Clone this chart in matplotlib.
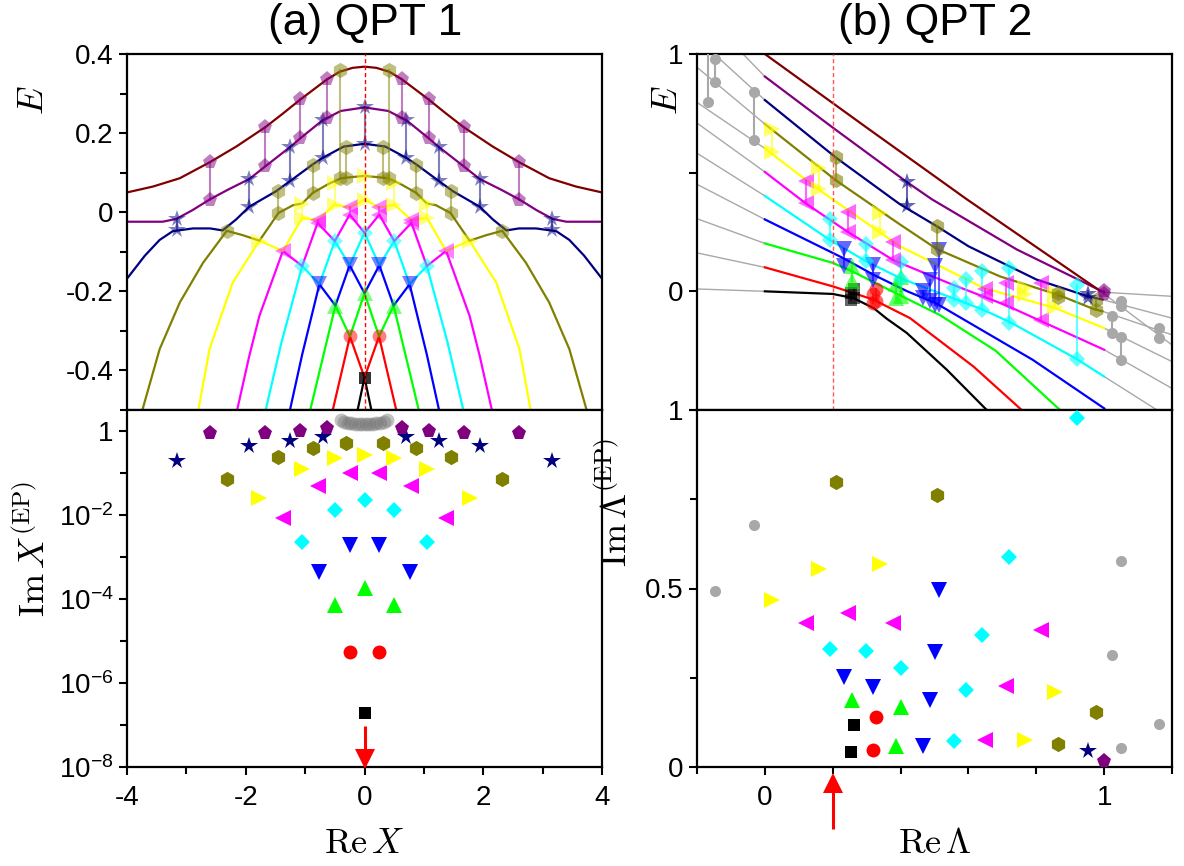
import matplotlib
matplotlib.use('Agg')
import matplotlib.pyplot as plt
import matplotlib.transforms as mtransforms
from matplotlib.ticker import FixedLocator, FixedFormatter, NullFormatter

plt.rcParams['mathtext.fontset'] = 'cm'
plt.rcParams['font.family'] = ['Liberation Sans', 'DejaVu Sans']

# ---------------- colours / markers per level ----------------
COLORS = {'black': '#000000', 'red': '#FF0000', 'green': '#00FF00', 'blue': '#0000FF',
          'cyan': '#00FFFF', 'magenta': '#FF00FF', 'yellow': '#FFFF00', 'olive': '#808000',
          'navy': '#000080', 'purple': '#800080', 'maroon': '#800000', 'gray': '#A8A8A8'}
MARKERS = {'black': ('s', 9), 'red': ('o', 10), 'green': ('^', 11), 'blue': ('v', 11),
           'cyan': ('D', 8.5), 'magenta': ('<', 11), 'yellow': ('>', 11), 'olive': ('h', 11),
           'navy': ('*', 13), 'purple': ('p', 11), 'gray': ('o', 8)}

# ================= panel (a): E vs Re X =================
a_black_X = [-0.13, 0, 0.13]
a_black_E = [-0.51, -0.418, -0.51]
a_red_X = [-0.55, -0.245, 0, 0.245, 0.55]
a_red_E = [-0.51, -0.314, -0.418, -0.314, -0.51]
a_green_X = [-0.93, -0.49, -0.245, 0, 0.245, 0.49, 0.93]
a_green_E = [-0.51, -0.236, -0.314, -0.205, -0.314, -0.236, -0.51]
a_blue_X = [-1.27, -1.05, -0.76, -0.49, -0.25, 0, 0.25, 0.49, 0.76, 1.05, 1.27]
a_blue_E = [-0.51, -0.36, -0.182, -0.236, -0.134, -0.205, -0.134, -0.236, -0.182, -0.36, -0.51]
a_cyan_X = [-1.68, -1.4, -1.05, -0.76, -0.5, -0.25, 0, 0.25, 0.5, 0.76, 1.05, 1.4, 1.68]
a_cyan_E = [-0.51, -0.33, -0.136, -0.182, -0.073, -0.134, -0.052, -0.134, -0.073, -0.182, -0.136, -0.33, -0.51]
a_magenta_X = [-2.16, -1.94, -1.77, -1.375, -1.05, -0.79, -0.5, -0.25, 0,
               0.25, 0.5, 0.79, 1.05, 1.375, 1.77, 1.94, 2.16]
a_magenta_E = [-0.51, -0.363, -0.262, -0.098, -0.136, -0.027, -0.073, -0.006, -0.052,
               -0.006, -0.073, -0.027, -0.136, -0.098, -0.262, -0.363, -0.51]
a_yellow_X = [-2.81, -2.61, -2.22, -1.77, -1.375, -1.05, -0.79, -0.505, -0.25, 0,
              0.25, 0.505, 0.79, 1.05, 1.375, 1.77, 2.22, 2.61, 2.81]
a_yellow_E = [-0.51, -0.346, -0.178, -0.072, -0.098, -0.014, -0.02, 0.019, 0.012, 0.032,
              0.012, 0.019, -0.02, -0.014, -0.098, -0.072, -0.178, -0.346, -0.51]
a_olive_X = [-3.76, -3.45, -3.11, -2.72, -2.32, -2.05, -1.77, -1.6, -1.45, -1.2, -1.05, -0.87, -0.6, -0.39, 0,
             0.39, 0.6, 0.87, 1.05, 1.2, 1.45, 1.6, 1.77, 2.05, 2.32, 2.72, 3.11, 3.45, 3.76]
a_olive_E = [-0.51, -0.346, -0.228, -0.128, -0.047, -0.058, -0.072, -0.035, -0.002, 0.018, 0.022, 0.049, 0.072, 0.086, 0.092,
             0.086, 0.072, 0.049, 0.022, 0.018, -0.002, -0.035, -0.072, -0.058, -0.047, -0.128, -0.228, -0.346, -0.51]
a_navy_X = [-4, -3.7, -3.45, -3.23, -2.89, -2.6, -2.39, -2.16, -1.94, -1.49, -1.26, -0.88, -0.71, -0.35, 0,
            0.35, 0.71, 0.88, 1.26, 1.49, 1.94, 2.16, 2.39, 2.6, 2.89, 3.23, 3.45, 3.7, 4]
a_navy_E = [-0.168, -0.11, -0.07, -0.048, -0.041, -0.041, -0.046, -0.018, 0.014, 0.053, 0.078, 0.12, 0.137, 0.166, 0.173,
            0.166, 0.137, 0.12, 0.078, 0.053, 0.014, -0.018, -0.046, -0.041, -0.041, -0.048, -0.07, -0.11, -0.168]
a_purple_X = [-4, -3.4, -3.17, -2.9, -2.61, -2.3, -1.94, -1.67, -1.26, -1.08, -0.71, -0.4, 0,
              0.4, 0.71, 1.08, 1.26, 1.67, 1.94, 2.3, 2.61, 2.9, 3.17, 3.4, 4]
a_purple_E = [-0.024, -0.024, -0.017, 0.005, 0.032, 0.057, 0.084, 0.116, 0.164, 0.187, 0.232, 0.256, 0.265,
              0.256, 0.232, 0.187, 0.164, 0.116, 0.084, 0.057, 0.032, 0.005, -0.017, -0.024, -0.024]
a_maroon_X = [-4, -3.56, -3.11, -2.61, -2.16, -1.67, -1.37, -1.08, -0.63, -0.42, -0.2, 0,
              0.2, 0.42, 0.63, 1.08, 1.37, 1.67, 2.16, 2.61, 3.11, 3.56, 4]
a_maroon_E = [0.05, 0.065, 0.086, 0.126, 0.166, 0.215, 0.25, 0.285, 0.336, 0.355, 0.365, 0.368,
              0.365, 0.355, 0.336, 0.285, 0.25, 0.215, 0.166, 0.126, 0.086, 0.065, 0.05]

# exceptional points of panel (a): Re X, E of both coalescing levels, Im X
a_ep_black_X = [0]
a_ep_black_Eup = [-0.418]
a_ep_black_Elo = [-0.418]
a_ep_black_Im = [1.95e-7]
a_ep_red_X = [-0.245, 0.245]
a_ep_red_Eup = [-0.314, -0.314]
a_ep_red_Elo = [-0.314, -0.314]
a_ep_red_Im = [5.4e-6, 5.4e-6]
a_ep_green_X = [-0.49, 0, 0.49]
a_ep_green_Eup = [-0.236, -0.205, -0.236]
a_ep_green_Elo = [-0.236, -0.205, -0.236]
a_ep_green_Im = [7.1e-5, 1.8e-4, 7.1e-5]
a_ep_blue_X = [-0.76, -0.25, 0.25, 0.76]
a_ep_blue_Eup = [-0.182, -0.134, -0.134, -0.182]
a_ep_blue_Elo = [-0.182, -0.134, -0.134, -0.182]
a_ep_blue_Im = [4.3e-4, 1.9e-3, 1.9e-3, 4.3e-4]
a_ep_cyan_X = [-1.05, -0.5, 0, 0.5, 1.05]
a_ep_cyan_Eup = [-0.136, -0.073, -0.052, -0.073, -0.136]
a_ep_cyan_Elo = [-0.136, -0.073, -0.052, -0.073, -0.136]
a_ep_cyan_Im = [2.3e-3, 1.35e-2, 2.3e-2, 1.35e-2, 2.3e-3]
a_ep_magenta_X = [-1.375, -0.79, -0.25, 0.25, 0.79, 1.375]
a_ep_magenta_Eup = [-0.098, -0.02, 0.012, 0.012, -0.02, -0.098]
a_ep_magenta_Elo = [-0.098, -0.027, -0.006, -0.006, -0.027, -0.098]
a_ep_magenta_Im = [8.7e-3, 5.0e-2, 9.8e-2, 9.8e-2, 5.0e-2, 8.7e-3]
a_ep_yellow_X = [-1.77, -1.05, -0.505, 0, 0.505, 1.05, 1.77]
a_ep_yellow_Eup = [-0.072, 0.022, 0.074, 0.092, 0.074, 0.022, -0.072]
a_ep_yellow_Elo = [-0.072, -0.014, 0.019, 0.032, 0.019, -0.014, -0.072]
a_ep_yellow_Im = [2.6e-2, 0.123, 0.224, 0.275, 0.224, 0.123, 2.6e-2]
a_ep_olive_X = [-2.32, -1.45, -0.87, -0.31, 0.31, 0.87, 1.45, 2.32]
a_ep_olive_Eup = [-0.047, 0.053, 0.12, 0.166, 0.166, 0.12, 0.053, -0.047]
a_ep_olive_Elo = [-0.047, -0.002, 0.049, 0.087, 0.087, 0.049, -0.002, -0.047]
a_ep_olive_Im = [0.071, 0.234, 0.389, 0.513, 0.513, 0.389, 0.234, 0.071]
a_ep_olive2_X = [-0.41, 0.41]
a_ep_olive2_Eup = [0.359, 0.359]
a_ep_olive2_Elo = [0.087, 0.087]
a_ep_navy_X = [-3.16, -1.94, -1.25, -0.70, 0.70, 1.25, 1.94, 3.16]
a_ep_navy_Eup = [-0.017, 0.084, 0.164, 0.232, 0.232, 0.164, 0.084, -0.017]
a_ep_navy_Elo = [-0.046, 0.014, 0.078, 0.137, 0.137, 0.078, 0.014, -0.046]
a_ep_navy_Im = [0.193, 0.44, 0.589, 0.708, 0.708, 0.589, 0.44, 0.193]
a_ep_navy2_X = [0]
a_ep_navy2_Eup = [0.265]
a_ep_navy2_Elo = [0.173]
a_ep_purple_X = [-2.6, -1.67, -1.08, -0.63, 0.63, 1.08, 1.67, 2.6]
a_ep_purple_Eup = [0.126, 0.215, 0.285, 0.336, 0.336, 0.285, 0.215, 0.126]
a_ep_purple_Elo = [0.032, 0.116, 0.187, 0.238, 0.238, 0.187, 0.116, 0.032]
a_ep_purple_Im = [0.879, 0.912, 1.0, 1.148, 1.148, 1.0, 0.912, 0.879]
a_ep_gray_X = [-0.40, -0.34, -0.28, -0.22, -0.16, -0.10, -0.04, 0.02, 0.08, 0.14, 0.20, 0.26, 0.32, 0.38]
a_ep_gray_Im = [1.80, 1.66, 1.58, 1.52, 1.50, 1.48, 1.48, 1.48, 1.48, 1.50, 1.52, 1.58, 1.66, 1.80]
a_critical_X = 0.0

# ================= panel (b): E vs Re Lambda =================
b_black_L = [0, 0.2, 0.26, 0.32, 0.359, 0.418, 0.536, 0.654]
b_black_E = [0, -0.011, -0.028, -0.07, -0.115, -0.175, -0.33, -0.5]
b_red_L = [0, 0.2, 0.32, 0.428, 0.615, 0.757]
b_red_E = [0.101, 0.021, -0.035, -0.113, -0.317, -0.5]
b_green_L = [0, 0.2, 0.256, 0.389, 0.516, 0.68, 0.87]
b_green_E = [0.202, 0.12, 0.085, -0.01, -0.1, -0.25, -0.5]
b_blue_L = [0, 0.231, 0.32, 0.42, 0.504, 0.79, 1.0]
b_blue_E = [0.303, 0.14, 0.07, 0.0, -0.05, -0.289, -0.493]
b_cyan_L = [0, 0.192, 0.298, 0.40, 0.556, 0.639, 0.723, 0.919, 1.0]
b_cyan_E = [0.402, 0.216, 0.127, 0.055, -0.03, -0.075, -0.13, -0.285, -0.359]
b_magenta_L = [0, 0.12, 0.246, 0.379, 0.55, 0.713, 0.821, 1.0]
b_magenta_E = [0.503, 0.371, 0.249, 0.131, 0.03, -0.06, -0.13, -0.246]
b_yellow_L = [0, 0.157, 0.339, 0.398, 0.645, 0.855, 1.0]
b_yellow_E = [0.602, 0.43, 0.249, 0.19, 0.014, -0.07, -0.155]
b_olive_L = [0, 0.209, 0.398, 0.506, 0.693, 0.865, 0.97, 0.995]
b_olive_E = [0.705, 0.468, 0.282, 0.179, 0.063, -0.015, -0.075, -0.084]
b_navy_L = [0, 0.209, 0.398, 0.506, 0.6, 0.8, 0.95, 0.995]
b_navy_E = [0.806, 0.564, 0.367, 0.275, 0.19, 0.05, -0.02, -0.035]
b_purple_L = [0, 0.2, 0.418, 0.492, 0.743, 1.0]
b_purple_E = [0.905, 0.69, 0.461, 0.388, 0.176, -0.004]
b_maroon_L = [0, 0.3, 0.595, 0.99]
b_maroon_E = [1.0, 0.69, 0.388, 0.0]

# grey continuation of the levels outside 0 <= Lambda <= 1
b_gray_left_L = [-0.2, 0]
b_gray_left_E0 = [0.01, 0.162, 0.306, 0.451, 0.582, 0.709, 0.796, 0.944, 1.066, 1.2]
b_gray_left_E1 = [0.0, 0.101, 0.202, 0.303, 0.402, 0.503, 0.602, 0.705, 0.806, 0.905]
b_gray_right_L0 = [1.0, 0.995, 0.995, 0.99, 1.0, 1.0, 1.0, 1.0]
b_gray_right_E0 = [-0.004, -0.035, -0.084, 0.0, -0.155, -0.246, -0.359, -0.493]
b_gray_right_E1 = [-0.021, -0.113, -0.183, -0.226, -0.296, -0.409, -0.54, -0.68]

b_ep_black_L = [0.254, 0.263]
b_ep_black_Eup = [-0.005, 0.01]
b_ep_black_Elo = [-0.035, -0.03]
b_ep_black_Im = [0.042, 0.117]
b_ep_red_L = [0.318, 0.327]
b_ep_red_Eup = [-0.01, 0.01]
b_ep_red_Elo = [-0.05, -0.04]
b_ep_red_Im = [0.047, 0.140]
b_ep_green_L = [0.256, 0.386, 0.400]
b_ep_green_Eup = [0.106, 0.03, 0.06]
b_ep_green_Elo = [0.043, -0.03, -0.021]
b_ep_green_Im = [0.189, 0.058, 0.168]
b_ep_blue_L = [0.233, 0.320, 0.465, 0.488, 0.502, 0.512]
b_ep_blue_Eup = [0.179, 0.109, 0.0, 0.049, 0.106, 0.176]
b_ep_blue_Elo = [0.106, 0.047, -0.028, -0.042, -0.056, -0.056]
b_ep_blue_Im = [0.252, 0.224, 0.058, 0.187, 0.322, 0.495]
b_ep_cyan_L = [0.192, 0.298, 0.400, 0.556, 0.593, 0.639, 0.721, 0.919]
b_ep_cyan_Eup = [0.303, 0.2, 0.123, 0.014, 0.05, 0.085, 0.099, 0.028]
b_ep_cyan_Elo = [0.216, 0.127, 0.05, -0.035, -0.049, -0.077, -0.134, -0.285]
b_ep_cyan_Im = [0.330, 0.324, 0.276, 0.072, 0.215, 0.371, 0.587, 0.977]
b_ep_magenta_L = [0.120, 0.246, 0.379, 0.649, 0.711, 0.814]
b_ep_magenta_Eup = [0.465, 0.334, 0.207, 0.01, 0.035, 0.035]
b_ep_magenta_Elo = [0.371, 0.249, 0.131, -0.02, -0.049, -0.12]
b_ep_magenta_Im = [0.404, 0.432, 0.404, 0.077, 0.226, 0.385]
b_ep_yellow_L = [0.020, 0.160, 0.339, 0.767, 0.855]
b_ep_yellow_Eup = [0.684, 0.521, 0.331, 0.014, -0.005]
b_ep_yellow_Elo = [0.585, 0.43, 0.249, -0.01, -0.068]
b_ep_yellow_Im = [0.469, 0.556, 0.570, 0.075, 0.210]
b_ep_olive_L = [0.209, 0.506, 0.865, 0.975]
b_ep_olive_Eup = [0.564, 0.275, -0.005, -0.035]
b_ep_olive_Elo = [0.468, 0.179, -0.025, -0.078]
b_ep_olive_Im = [0.799, 0.762, 0.065, 0.154]
b_ep_navy_L = [0.418, 0.951]
b_ep_navy_Eup = [0.461, -0.012]
b_ep_navy_Elo = [0.36, -0.028]
b_ep_navy_Im = [None, 0.045]
b_ep_purple_L = [1.0]
b_ep_purple_Eup = [0.003]
b_ep_purple_Elo = [-0.01]
b_ep_purple_Im = [0.017]
b_ep_gray_L = [-0.167, -0.147, -0.031, 1.023, 1.049, 1.049, 1.162]
b_ep_gray_Eup = [1.06, 0.98, 0.841, -0.106, -0.042, -0.193, -0.155]
b_ep_gray_Elo = [0.796, 0.881, 0.638, -0.176, -0.063, -0.289, -0.197]
b_ep_gray_Im_L = [-0.147, -0.031, 1.049, 1.023, 1.162, 1.049]
b_ep_gray_Im = [0.493, 0.678, 0.578, 0.315, 0.120, 0.054]
b_critical_L = 0.2

# ================= figure =================
fig = plt.figure(figsize=(11.84, 8.66), dpi=100)
W, H = 1184.0, 866.0
axLt = fig.add_axes([127 / W, 1 - 410 / H, 475 / W, 356 / H])
axLb = fig.add_axes([127 / W, 1 - 767 / H, 475 / W, 357 / H])
axRt = fig.add_axes([697 / W, 1 - 410 / H, 475 / W, 356 / H])
axRb = fig.add_axes([697 / W, 1 - 767 / H, 475 / W, 357 / H])

TICK_FS = 20
for ax in (axLt, axLb, axRt, axRb):
    for s in ax.spines.values():
        s.set_linewidth(1.6)
    ax.tick_params(which='both', direction='out', width=1.5, labelsize=TICK_FS,
                   top=False, right=False)
    ax.tick_params(which='major', length=6)
    ax.tick_params(which='minor', length=5)
    ax.tick_params(axis='x', pad=7)


def pairs(ax, xs, eu, el, name, alpha=0.5):
    col = COLORS[name]
    mk, ms = MARKERS[name]
    for x, u, l in zip(xs, eu, el):
        if u != l:
            ax.plot([x, x], [l, u], color=col, lw=1.5, alpha=alpha, zorder=3)
            ax.plot([x], [l], ls='none', marker=mk, ms=ms, color=col, mew=0, alpha=alpha, zorder=4)
        ax.plot([x], [u], ls='none', marker=mk, ms=ms, color=col, mew=0, alpha=alpha, zorder=4)


def points(ax, xs, ys, name, alpha=1.0):
    col = COLORS[name]
    mk, ms = MARKERS[name]
    xx = [x for x, y in zip(xs, ys) if y is not None]
    yy = [y for y in ys if y is not None]
    ax.plot(xx, yy, ls='none', marker=mk, ms=ms, color=col, mew=0, alpha=alpha, zorder=4)


def red_arrow(ax, x, y_tail, y_tip, pointing):
    # vertical red arrow: x in data coords, y in axes fraction
    tr = mtransforms.blended_transform_factory(ax.transData, ax.transAxes)
    head = 0.045 if pointing == 'down' else -0.045
    ax.plot([x, x], [y_tail, y_tip + head * 0.6], color='red', lw=2.2, transform=tr,
            clip_on=False, zorder=8, solid_capstyle='butt')
    ax.plot([x], [y_tip + head * 0.5], marker='v' if pointing == 'down' else '^', ms=15,
            color='red', mew=0, transform=tr, clip_on=False, zorder=8)


# ---- panel (a) top ----
a_curves = [(a_black_X, a_black_E, 'black'), (a_red_X, a_red_E, 'red'), (a_green_X, a_green_E, 'green'),
            (a_blue_X, a_blue_E, 'blue'), (a_cyan_X, a_cyan_E, 'cyan'), (a_magenta_X, a_magenta_E, 'magenta'),
            (a_yellow_X, a_yellow_E, 'yellow'), (a_olive_X, a_olive_E, 'olive'), (a_navy_X, a_navy_E, 'navy'),
            (a_purple_X, a_purple_E, 'purple'), (a_maroon_X, a_maroon_E, 'maroon')]
for xs, es, name in a_curves:
    axLt.plot(xs, es, color=COLORS[name], lw=1.6, zorder=2)

a_eps = [(a_ep_black_X, a_ep_black_Eup, a_ep_black_Elo, a_ep_black_Im, 'black'),
         (a_ep_red_X, a_ep_red_Eup, a_ep_red_Elo, a_ep_red_Im, 'red'),
         (a_ep_green_X, a_ep_green_Eup, a_ep_green_Elo, a_ep_green_Im, 'green'),
         (a_ep_blue_X, a_ep_blue_Eup, a_ep_blue_Elo, a_ep_blue_Im, 'blue'),
         (a_ep_cyan_X, a_ep_cyan_Eup, a_ep_cyan_Elo, a_ep_cyan_Im, 'cyan'),
         (a_ep_magenta_X, a_ep_magenta_Eup, a_ep_magenta_Elo, a_ep_magenta_Im, 'magenta'),
         (a_ep_yellow_X, a_ep_yellow_Eup, a_ep_yellow_Elo, a_ep_yellow_Im, 'yellow'),
         (a_ep_olive_X, a_ep_olive_Eup, a_ep_olive_Elo, a_ep_olive_Im, 'olive'),
         (a_ep_navy_X, a_ep_navy_Eup, a_ep_navy_Elo, a_ep_navy_Im, 'navy'),
         (a_ep_purple_X, a_ep_purple_Eup, a_ep_purple_Elo, a_ep_purple_Im, 'purple')]
for xs, eu, el, im, name in a_eps:
    pairs(axLt, xs, eu, el, name, alpha=0.8 if name == 'black' else 0.5)
    points(axLb, xs, im, name)
pairs(axLt, a_ep_olive2_X, a_ep_olive2_Eup, a_ep_olive2_Elo, 'olive')
pairs(axLt, a_ep_navy2_X, a_ep_navy2_Eup, a_ep_navy2_Elo, 'navy')
axLt.axvline(a_critical_X, color='red', lw=1.0, ls=(0, (3, 2)), zorder=5)
axLb.plot(a_ep_gray_X, a_ep_gray_Im, ls='none', marker='o', ms=10, color='#777777', mew=0, alpha=0.45, zorder=3)

axLt.set_xlim(-4, 4)
axLt.set_ylim(-0.5, 0.4)
axLt.yaxis.set_major_locator(FixedLocator([-0.4, -0.2, 0, 0.2, 0.4]))
axLt.yaxis.set_major_formatter(FixedFormatter(['-0.4', '-0.2', '0', '0.2', '0.4']))
axLt.yaxis.set_minor_locator(FixedLocator([-0.5, -0.3, -0.1, 0.1, 0.3]))
axLt.tick_params(axis='x', which='both', bottom=False, labelbottom=False)
axLt.set_ylabel(r'$E$', fontsize=26)
axLt.yaxis.set_label_coords(-0.16, 0.87)

# ---- panel (a) bottom ----
axLb.set_yscale('log')
axLb.set_xlim(-4, 4)
axLb.set_ylim(1e-8, 10 ** 0.5)
axLb.yaxis.set_major_locator(FixedLocator([1e-8, 1e-6, 1e-4, 1e-2, 1]))
axLb.yaxis.set_major_formatter(FixedFormatter([r'$\mathregular{10^{-8}}$', r'$\mathregular{10^{-6}}$',
                                               r'$\mathregular{10^{-4}}$', r'$\mathregular{10^{-2}}$', '1']))
axLb.yaxis.set_minor_locator(FixedLocator([1e-7, 1e-5, 1e-3, 1e-1]))
axLb.yaxis.set_minor_formatter(NullFormatter())
axLb.xaxis.set_major_locator(FixedLocator([-4, -2, 0, 2, 4]))
axLb.xaxis.set_major_formatter(FixedFormatter(['-4', '-2', '0', '2', '4']))
axLb.xaxis.set_minor_locator(FixedLocator([-3, -1, 1, 3]))
axLb.set_ylabel(r'$\mathrm{Im}\,X^{(\mathrm{EP})}$', fontsize=26)
axLb.yaxis.set_label_coords(-0.155, 0.61)
axLb.set_xlabel(r'$\mathrm{Re}\,X$', fontsize=26)
axLb.xaxis.set_label_coords(0.5, -0.165)
red_arrow(axLb, a_critical_X, 0.115, 0.0, 'down')

# ---- panel (b) top ----
for E0, E1 in zip(b_gray_left_E0, b_gray_left_E1):
    axRt.plot(b_gray_left_L, [E0, E1], color=COLORS['gray'], lw=1.0, zorder=1)
for L0, E0, E1 in zip(b_gray_right_L0, b_gray_right_E0, b_gray_right_E1):
    axRt.plot([L0, 1.2], [E0, E1], color=COLORS['gray'], lw=1.0, zorder=1)
b_curves = [(b_black_L, b_black_E, 'black'), (b_red_L, b_red_E, 'red'), (b_green_L, b_green_E, 'green'),
            (b_blue_L, b_blue_E, 'blue'), (b_cyan_L, b_cyan_E, 'cyan'), (b_magenta_L, b_magenta_E, 'magenta'),
            (b_yellow_L, b_yellow_E, 'yellow'), (b_olive_L, b_olive_E, 'olive'), (b_navy_L, b_navy_E, 'navy'),
            (b_purple_L, b_purple_E, 'purple'), (b_maroon_L, b_maroon_E, 'maroon')]
for xs, es, name in b_curves:
    axRt.plot(xs, es, color=COLORS[name], lw=1.6, zorder=2)
axRt.axvline(b_critical_L, color='#FF5555', lw=1.0, ls=(0, (3, 2)), zorder=5)

b_eps = [(b_ep_black_L, b_ep_black_Eup, b_ep_black_Elo, b_ep_black_Im, 'black'),
         (b_ep_red_L, b_ep_red_Eup, b_ep_red_Elo, b_ep_red_Im, 'red'),
         (b_ep_green_L, b_ep_green_Eup, b_ep_green_Elo, b_ep_green_Im, 'green'),
         (b_ep_blue_L, b_ep_blue_Eup, b_ep_blue_Elo, b_ep_blue_Im, 'blue'),
         (b_ep_cyan_L, b_ep_cyan_Eup, b_ep_cyan_Elo, b_ep_cyan_Im, 'cyan'),
         (b_ep_magenta_L, b_ep_magenta_Eup, b_ep_magenta_Elo, b_ep_magenta_Im, 'magenta'),
         (b_ep_yellow_L, b_ep_yellow_Eup, b_ep_yellow_Elo, b_ep_yellow_Im, 'yellow'),
         (b_ep_olive_L, b_ep_olive_Eup, b_ep_olive_Elo, b_ep_olive_Im, 'olive'),
         (b_ep_navy_L, b_ep_navy_Eup, b_ep_navy_Elo, b_ep_navy_Im, 'navy'),
         (b_ep_purple_L, b_ep_purple_Eup, b_ep_purple_Elo, b_ep_purple_Im, 'purple')]
for xs, eu, el, im, name in b_eps:
    pairs(axRt, xs, eu, el, name, alpha=0.6)
    points(axRb, xs, im, name)
pairs(axRt, b_ep_gray_L, b_ep_gray_Eup, b_ep_gray_Elo, 'gray', alpha=1.0)
points(axRb, b_ep_gray_Im_L, b_ep_gray_Im, 'gray')

axRt.set_xlim(-0.2, 1.2)
axRt.set_ylim(-0.5, 1.0)
axRt.yaxis.set_major_locator(FixedLocator([0, 1]))
axRt.yaxis.set_major_formatter(FixedFormatter(['0', '1']))
axRt.yaxis.set_minor_locator(FixedLocator([-0.5, 0.5]))
axRt.tick_params(axis='y', which='minor', length=6)
axRt.tick_params(axis='x', which='both', bottom=False, labelbottom=False)
axRt.set_ylabel(r'$E$', fontsize=26)
axRt.yaxis.set_label_coords(-0.025, 0.87)

# ---- panel (b) bottom ----
axRb.set_xlim(-0.2, 1.2)
axRb.set_ylim(0, 1.0)
axRb.xaxis.set_major_locator(FixedLocator([0, 1]))
axRb.xaxis.set_major_formatter(FixedFormatter(['0', '1']))
axRb.xaxis.set_minor_locator(FixedLocator([-0.2, 0.2, 0.4, 0.6, 0.8, 1.2]))
axRb.yaxis.set_major_locator(FixedLocator([0, 0.5, 1]))
axRb.yaxis.set_major_formatter(FixedFormatter(['0', '0.5', '1']))
axRb.yaxis.set_minor_locator(FixedLocator([0.25, 0.75]))
axRb.set_ylabel(r'$\mathrm{Im}\,\Lambda^{(\mathrm{EP})}$', fontsize=26)
axRb.yaxis.set_label_coords(-0.13, 0.74)
axRb.set_xlabel(r'$\mathrm{Re}\,\Lambda$', fontsize=26)
axRb.xaxis.set_label_coords(0.5, -0.165)
red_arrow(axRb, b_critical_L, -0.175, -0.022, 'up')

fig.text(365 / W, 1 - 24 / H, '(a) QPT 1', ha='center', va='center', fontsize=32)
fig.text(935 / W, 1 - 24 / H, '(b) QPT 2', ha='center', va='center', fontsize=32)

fig.savefig('out.png', dpi=100)
